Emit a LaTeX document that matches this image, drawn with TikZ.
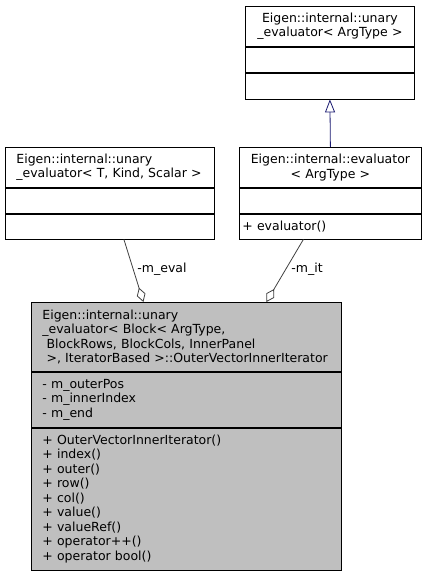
\documentclass[tikz,border=0pt]{standalone}
\usepackage{fontspec}
\setmainfont{DejaVu Sans}
\usetikzlibrary{arrows.meta, positioning, calc}
\definecolor{mainfill}{HTML}{BFBFBF}
\definecolor{edgegrey}{HTML}{404040}
\definecolor{inhblue}{HTML}{191970}

\begin{document}
\begin{tikzpicture}[x=1pt, y=-1pt,
  part/.style={draw=black, line width=0.8pt, anchor=north west, inner ysep=0pt,
    font=\fontsize{12.5}{14.5}\selectfont},
  usage/.style={draw=edgegrey, line width=0.8pt, -{Diamond[open, length=15pt, width=9pt]}},
  inherit/.style={draw=inhblue, line width=0.8pt, {Triangle[open, length=13pt, width=10pt]}-}]
\useasboundingbox (0,0) rectangle (426,575);

% base class
\node[part, inner xsep=4pt, text width=161pt, align=center, minimum height=40pt] (aT) at (245,6)
  {Eigen::internal::unary\\\_evaluator\textless{} ArgType \textgreater};
\node[part, text width=161pt, inner xsep=4pt, minimum height=25pt] (aA) at (aT.south west) {};
\node[part, text width=161pt, inner xsep=4pt, minimum height=26pt] (aO) at (aA.south west) {};

% evaluator
\node[part, inner xsep=3pt, text width=176pt, align=center, minimum height=40pt] (bT) at (239,147)
  {Eigen::internal::evaluator\\\textless{} ArgType \textgreater};
\node[part, text width=176pt, inner xsep=3pt, minimum height=25pt] (bA) at (bT.south west) {};
\node[part, text width=176pt, inner xsep=3pt, align=left, minimum height=25pt] (bO) at (bA.south west)
  {+ evaluator()};

% nested evaluator
\node[part, inner xsep=11pt, text width=187pt, align=left, minimum height=40pt] (cT) at (5,147)
  {Eigen::internal::unary\\\_evaluator\textless{} T, Kind, Scalar \textgreater};
\node[part, text width=187pt, inner xsep=11pt, minimum height=25pt] (cA) at (cT.south west) {};
\node[part, text width=187pt, inner xsep=11pt, minimum height=25pt] (cO) at (cA.south west) {};

% inner iterator
\node[part, fill=mainfill, inner xsep=11pt, text width=288pt, align=left, minimum height=69pt] (dT) at (31,302)
  {Eigen::internal::unary\\\_evaluator\textless{} Block\textless{} ArgType,\\
   \ BlockRows, BlockCols, InnerPanel\\ \ \textgreater, IteratorBased \textgreater::OuterVectorInnerIterator};
\node[part, fill=mainfill, text width=288pt, inner xsep=11pt, align=left, minimum height=55pt] (dA) at (dT.south west)
  {- m\_outerPos\\- m\_innerIndex\\- m\_end};
\node[part, fill=mainfill, text width=288pt, inner xsep=11pt, align=left, minimum height=142pt] (dO) at (dA.south west)
  {+ OuterVectorInnerIterator()\\+ index()\\+ outer()\\+ row()\\+ col()\\+ value()\\+ valueRef()\\
   + operator++()\\+ operator bool()};

% relations
\draw[inherit] (aO.south) -- (bT.north);
\draw[usage] ($(cO.south)+(14,0)$) -- ($(dT.north)+(-43,0)$)
  node[pos=0.47, right, font=\fontsize{12.5}{14.5}\selectfont, inner sep=4pt] (lEval) {-m\_eval};
\draw[usage] ($(bO.south)+(-27,0)$) -- ($(dT.north)+(80,0)$)
  node[pos=0.47, right, font=\fontsize{12.5}{14.5}\selectfont, inner sep=5pt] (lIt) {-m\_it};
\end{tikzpicture}
\end{document}
